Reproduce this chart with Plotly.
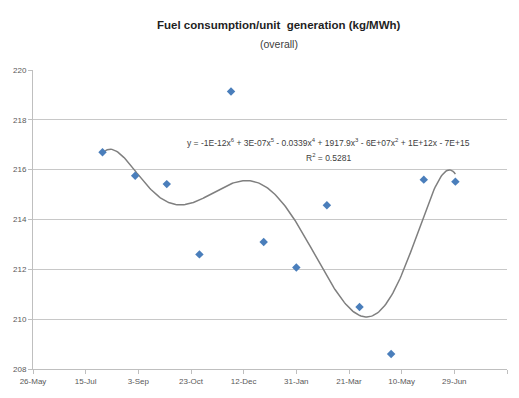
import numpy as np
import pandas as pd
import plotly.graph_objects as go

# Data
dates = ["2011-07-31", "2011-08-31", "2011-09-30", "2011-10-31", "2011-11-30", "2011-12-31",
         "2012-01-31", "2012-02-29", "2012-03-31", "2012-04-30", "2012-05-31", "2012-06-30"]
values = [216.70, 215.76, 215.42, 212.60, 219.14, 213.10,
          212.07, 214.57, 210.49, 208.60, 215.60, 215.52]
y_ticks = [208, 210, 212, 214, 216, 218, 220]
x_start = "2011-05-26"
x_end = "2012-08-18"
title_text = "<b>Fuel consumption/unit  generation (kg/MWh)</b>"
subtitle_text = "(overall)"
eq_text = "y = -1E-12x<sup>6</sup> + 3E-07x<sup>5</sup> - 0.0339x<sup>4</sup> + 1917.9x<sup>3</sup> - 6E+07x<sup>2</sup> + 1E+12x - 7E+15"
r2_text = "R<sup>2</sup> = 0.5281"

# 6th-order polynomial trendline fitted to the data
d = pd.to_datetime(dates)
t = ((d - d[0]).days.values).astype(float)
tm, ts = t.mean(), t.std()
coef = np.polyfit((t - tm) / ts, values, 6)
tt = np.linspace(t[0], t[-1], 300)
yy = np.polyval(coef, (tt - tm) / ts)
xx = d[0] + pd.to_timedelta(tt, unit="D")

FONT = "Liberation Sans Narrow, Liberation Sans, Arial, sans-serif"

fig = go.Figure()
fig.add_trace(go.Scatter(x=xx, y=yy, mode="lines",
                         line=dict(color="#7f7f7f", width=1.5), hoverinfo="skip"))
fig.add_trace(go.Scatter(x=d, y=values, mode="markers",
                         marker=dict(symbol="diamond", size=6.5, color="#4a7ebb")))

L, R, T, B = 33, 12, 70, 25
PW, PH = 519 - L - R, 398 - T - B

fig.update_layout(
    width=519, height=398,
    margin=dict(l=L, r=R, t=T, b=B),
    paper_bgcolor="white", plot_bgcolor="white",
    showlegend=False,
    font=dict(family=FONT, size=8, color="#595959"),
    xaxis=dict(type="date", range=[x_start, x_end], tick0=x_start,
               dtick=50 * 86400000, tickformat="%-d-%b",
               showgrid=False, showline=True, linecolor="#bfbfbf", linewidth=1,
               ticks="outside", ticklen=4, tickcolor="#bfbfbf",
               tickfont=dict(size=8, color="#595959"), zeroline=False),
    yaxis=dict(range=[208, 220], tickvals=y_ticks,
               showgrid=True, gridcolor="#c8c8c8", gridwidth=1,
               showline=True, linecolor="#bfbfbf", linewidth=1,
               ticks="outside", ticklen=4, tickcolor="#bfbfbf",
               tickfont=dict(size=8, color="#595959"), zeroline=False),
    annotations=[
        dict(text=title_text, x=(279 - L) / PW, y=(398 - 24 - B) / PH,
             xref="paper", yref="paper", yanchor="middle",
             showarrow=False, font=dict(size=11.5, color="#1f1f1f")),
        dict(text=subtitle_text, x=(279 - L) / PW, y=(398 - 44 - B) / PH,
             xref="paper", yref="paper", yanchor="middle",
             showarrow=False, font=dict(size=10.5, color="#404040")),
        dict(text=eq_text, x=(328 - L) / PW, y=(373 - 136) / PH,
             xref="paper", yref="paper", showarrow=False,
             font=dict(size=8.5, color="#404040")),
        dict(text=r2_text, x=(328 - L) / PW, y=(373 - 151) / PH,
             xref="paper", yref="paper", showarrow=False,
             font=dict(size=8.5, color="#404040")),
    ],
)

fig.write_html("out.html")
